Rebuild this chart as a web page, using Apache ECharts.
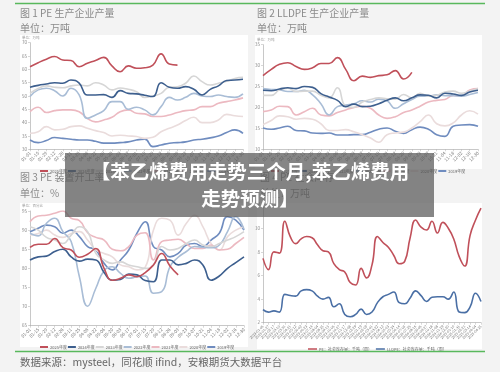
<!DOCTYPE html>
<html><head><meta charset="utf-8">
<script src="https://cdn.jsdelivr.net/npm/echarts/dist/echarts.min.js"></script>
<style>html,body{margin:0;padding:0;background:#f3f3f3}#c{width:500px;height:372px}</style>
</head><body><div id="c"></div><script>
// ---------- data ----------
const weeks = ["01-01","01-15","01-29","02-12","02-26","03-11","03-25","04-08","04-22","05-06","05-20","06-03","06-17","07-01","07-15","07-29","08-12","08-26","09-09","09-23","10-07","10-21","11-04","11-18","12-02","12-16","12-30"];
const years = ["2025年度","2024年度","2023年度","2022年度","2021年度","2020年度","2019年度"];

// 图1 PE 生产企业产量 (万吨)
const pe25 = [61,62.5,63.8,64.8,63.5,63.3,61,62.3,63.3,64.5,61.3,59.1,61.3,60.4,60.6,61.6,65.8,62,61.6];
const pe24 = [53.3,54,54.5,55,54.8,56,54.8,50.4,50.4,50.5,49.5,52,51,50.8,50.3,49.8,55,53.3,52.9,53.5,52.5,50.4,52.5,53.8,55.8,56,56.3];
const pe23 = [51,52.8,53.8,53.3,53.1,53.8,54.1,53.8,55,54.1,52.3,53,52.5,51.6,49.5,50,51,53.3,53.5,54.8,57.5,55.4,54.1,54.8,55.5,56.6,57];
const pe22 = [49.8,52.3,52.9,52,50,52.9,50.4,41.6,42.9,44.5,47.9,47.9,45,45.8,44.8,42.9,46,49.5,48.5,49.5,51,50,49.8,50.4,49.8,49.5,50.8];
const pe21 = [44.1,45.8,43.8,44.5,44.8,44.8,44.1,41.6,40.3,41,42,44.1,44.8,43.5,43.3,42.3,42.3,42.9,43.8,44.5,44.8,46,46,47.3,47.9,48.5,49.3];
const pe20 = [36,36.6,38.5,37.3,37.5,38.5,38.8,37.9,37,36.3,35,35.3,35,34.8,34.1,34.5,36.6,37.9,39.1,40.8,42,40,40,41,43.1,42.6,42.3];
const pe19 = [33.5,32.5,33.3,34.4,34.1,33.8,33.5,33.5,33,32.3,32.3,32.5,32.8,33.5,33.8,31,31.6,32.3,32.5,32.8,33.5,33.8,34.3,35,36.3,37.3,36];

// 图2 LLDPE 生产企业产量 (万吨)
const ll25 = [27.6,29.1,30.3,30.7,29.8,29.1,29.5,30.5,30.5,31.9,29.1,26.4,27.5,27.2,27.6,27.8,28.8,26.8,28.4];
const ll24 = [24.1,24,24.4,24.7,24.5,25,24.8,23.3,22.5,21.7,20.2,20.8,20.2,20.3,20.9,21.7,22.3,21.6,22.3,23,22.9,22.3,23.4,23.2,22.9,23.7,24.1];
const ll23 = [22.9,22.9,24.2,24.6,23.8,23.9,23.9,22.9,22.3,24.7,20.3,20,21.3,21.9,22.3,22.1,22,23.1,22.3,23.4,22.7,22.9,23.7,23.9,23.4,23.9,24.5];
const ll22 = [24.5,24.3,24.2,23.8,23.8,24.1,23,20.9,18.2,20.2,20.6,20.9,21.6,21.3,22,21.6,19.8,20.9,21.9,22.7,22.7,23,22.8,22.8,22.7,23.1,23.6];
const ll21 = [19,19.4,20.3,20.2,18.2,19,19.8,18.2,18,18.8,19.4,20,20.3,19.8,18.2,17.4,17.8,18.8,19.4,20.3,21.3,21.7,21.9,22.9,22.7,24.2,24.5];
const ll20 = [15.9,16.9,18,17.8,17.2,17.4,17.2,16.1,14.5,14.5,14.7,14.2,13.5,12.7,11.7,13.5,13.9,14.1,15.1,16.6,18.2,16.1,15.6,16.3,18.2,19.2,18.4];
const ll19 = [15.1,14.8,15.1,15.5,14.5,14.4,13.9,13.8,13.9,13.4,13.4,13.5,13.5,14.1,14.8,15.1,14.3,13.8,14.7,15.3,14.8,13.5,13.1,15.5,15.8,15.9,15.5];

// 图3 PE 装置开工率 (%)
const op25 = [85.5,86.3,86.3,87.8,85.4,84.8,82.9,83.7,85.2,80,76.9,77.4,78.3,77.8,78.9,80.9,83.9,80.6,78.3];
const op24 = [82.2,83,83.2,84.4,85,83,81.9,82.4,82.2,78.9,76.9,77.1,78.5,78.3,76.8,76.5,82.2,82.2,80.9,81.3,82.2,80.9,76.9,78,80,81.5,83];
const op23 = [90.9,90,88.1,87.4,86.5,88.7,90.9,89.6,83.9,82.2,81.3,81.7,80.9,80.4,80,80.9,85.7,84.8,85.2,86.5,87.4,86.1,85.7,86.5,87.4,88.3,89.6];
const op22 = [89.2,88.5,91.8,93.1,89.6,87,77.8,70.1,74.8,79.4,80.4,78.7,77.4,77.8,78,73.5,73.9,80.4,82.9,84.4,85.7,85.5,85.4,86.1,89.6,93.5,90.2];
const op21 = [92.2,93.7,93.9,94.4,95,93.1,92.5,89.3,88.1,87.4,85,84.6,85.7,88.7,89.3,82.2,87,87.4,87.6,86.4,85.2,85.2,86.1,84.8,85,86.5,88.1];
const op20 = [88.7,89.1,90,88.7,88.1,89.1,89.6,87.4,84.8,83.9,83,80.9,80.4,79.6,80.3,90,93.1,92.6,88.7,91.8,93.9,90.9,86.5,84.8,88.3,90,90.9];
const op19 = [89.6,90.5,91.3,90.9,89.2,90,88.3,85.7,84.8,81.3,79.6,82.2,84.8,89.2,92.2,85.7,84.8,83,83.9,86.1,86.5,85.7,87.4,89.2,93.5,92.6,90];

// 图4 库存 (万吨)
const invDates = ["2023-01-06","2023-01-27","2023-02-17","2023-03-10","2023-03-31","2023-04-21","2023-05-12","2023-06-02","2023-06-23","2023-07-14","2023-08-04","2023-08-25","2023-09-15","2023-10-06","2023-10-27","2023-11-17","2023-12-08","2023-12-29","2024-01-19","2024-02-09","2024-03-01","2024-03-22","2024-04-12","2024-05-03","2024-05-24","2024-06-14","2024-07-05","2024-07-26","2024-08-16","2024-09-06","2024-09-27","2024-10-18","2024-11-08","2024-11-29","2024-12-20","2025-01-10","2025-01-31","2025-02-21","2025-03-14","2025-04-04","2025-04-25"];
const invPE = [7.45,6.5,8.0,7.9,10.6,9.3,8.7,9.1,9.3,9.2,8.6,8.1,8.0,7.0,6.5,6.3,5.4,5.2,6.6,5.8,6.9,9.3,8.8,8.4,7.7,7.0,7.2,9.2,10.7,10.1,9.85,10.6,9.6,10.5,10.0,9.1,7.6,6.8,9.4,10.7,11.7];
const invLL = [3.1,2.9,3.0,2.9,4.4,4.3,4.25,4.7,4.8,4.7,4.25,4.0,4.15,3.35,3.6,2.7,2.5,2.7,3.15,2.7,2.9,3.7,4.2,4.4,4.6,3.7,3.6,4.1,4.7,4.3,3.8,4.15,4.2,4.2,4.0,4.6,2.9,2.85,3.35,4.5,3.8];
const invNames = ["PE：社会库存量：千吨（周）","LLDPE：社会库存量：千吨（周）"];

// ---------- chart ----------
const FF = '"Noto Sans CJK SC", "Noto Sans", sans-serif';
const yearColors = ['#c0505a','#3d5f8e','#d6d6d6','#a9bdd6','#ecb9c1','#eadcdc','#6f8cbf'];
const axisCol = '#b0b0b0';

function xAx(gi, data, fs) {
  return {type:'category', gridIndex:gi, data:data, boundaryGap:false,
    axisLine:{lineStyle:{color:axisCol,width:0.7}},
    axisTick:{show:true,length:2,lineStyle:{color:axisCol,width:0.5}},
    axisLabel:{rotate:45,fontSize:fs,color:'#777',interval:0,margin:3,fontFamily:FF}};
}
function yAx(gi, min, max, interval) {
  return {type:'value', gridIndex:gi, min:min, max:max, interval:interval,
    splitLine:{show:false},
    axisLine:{show:true,lineStyle:{color:axisCol,width:0.7}},
    axisTick:{show:true,length:2,lineStyle:{color:axisCol,width:0.5}},
    axisLabel:{fontSize:4.5,color:'#888',margin:3,fontFamily:FF}};
}
function ln(name, data, color, idx, w) {
  return {type:'line', name:name, data:data, xAxisIndex:idx, yAxisIndex:idx,
    smooth:true, symbol:'none', lineStyle:{color:color,width:w||1.6}, itemStyle:{color:color}};
}
function yearSeries(idx, arrs) {
  const out = [];
  for (let k = arrs.length - 1; k >= 0; k--) out.push(ln(years[k], arrs[k], yearColors[k], idx));
  return out;
}
function legendYears(left, top) {
  return {data:years, left:left, top:top, itemWidth:8, itemHeight:2, itemGap:1, icon:'rect',
    textStyle:{fontSize:4,color:'#666',fontFamily:FF,padding:[0,0,0,-3]}};
}
function txt(x, y, text, size, color, extra) {
  return Object.assign({type:'text', z:5, style:{x:x, y:y, text:text, fontSize:size, fill:color, fontFamily:FF, textVerticalAlign:'middle'}}, extra||{});
}
function bigTxt(y, text) {
  return {type:'text', z:101, style:{x:250, y:y, text:text, fontSize:19.5, fontWeight:'bold', fill:'#ffffff', fontFamily:FF, textAlign:'center', textVerticalAlign:'middle'}};
}
function rect(x, y, w, h, fill, z) {
  return {type:'rect', z:z, shape:{x:x,y:y,width:w,height:h}, style:{fill:fill}};
}

const chart = echarts.init(document.getElementById('c'), null, {renderer:'canvas'});
const option = {
  animation:false,
  backgroundColor:'#f3f3f3',
  grid:[
    {left:30, top:42.7, width:213, height:106.6},
    {left:263, top:44.7, width:215, height:104.6},
    {left:30, top:211, width:214, height:114.7},
    {left:263, top:204.7, width:218, height:118}
  ],
  xAxis:[xAx(0,weeks,4.5), xAx(1,weeks,4.5), xAx(2,weeks,4.5), xAx(3,invDates,3.5)],
  yAxis:[yAx(0,30,70,5), yAx(1,10,35,5), yAx(2,65,95,5), yAx(3,2,12,2)],
  legend:[
    legendYears(35,164),
    legendYears(266,164),
    legendYears(35,340),
    {data:invNames, left:303, top:342, itemWidth:9, itemHeight:1.5, itemGap:4, icon:'rect',
      textStyle:{fontSize:4,color:'#666',fontFamily:FF,padding:[0,0,0,-3]}}
  ],
  series:[].concat(
    yearSeries(0,[pe25,pe24,pe23,pe22,pe21,pe20,pe19]),
    yearSeries(1,[ll25,ll24,ll23,ll22,ll21,ll20,ll19]),
    yearSeries(2,[op25,op24,op23,op22,op21,op20,op19]),
    [ln(invNames[0], invPE, '#c0505a', 3, 1.6), ln(invNames[1], invLL, '#4a6fa5', 3, 1.6)]
  ),
  graphic:{elements:[
    rect(20,35,228,134,'#ffffff',-10),
    rect(255,35,227,134,'#ffffff',-10),
    rect(20,203,228,144,'#ffffff',-10),
    rect(257,203,225,146,'#ffffff',-10),
    {type:'line', z:5, shape:{x1:15,y1:3.5,x2:485,y2:3.5}, style:{stroke:'#58b85c',lineWidth:1.5}},
    {type:'line', z:5, shape:{x1:15,y1:351.5,x2:485,y2:351.5}, style:{stroke:'#58b85c',lineWidth:1.5}},
    txt(20,13,'图 1 PE 生产企业产量',10,'#8a8a8a'),
    txt(20,28,'单位：万吨',10,'#8a8a8a'),
    txt(257,13,'图 2 LLDPE 生产企业产量',10,'#8a8a8a'),
    txt(257,28,'单位：万吨',10,'#8a8a8a'),
    txt(20,177,'图 3 PE 装置开工率',10,'#8a8a8a'),
    txt(20,193,'单位：%',10,'#8a8a8a'),
    txt(260,177,'图 4 PE 社会库存',10,'#8a8a8a'),
    txt(260,193,'单位：万吨',10,'#8a8a8a'),
    txt(22,38,'单位：万吨',3.5,'#999'),
    txt(257,40,'单位：万吨',3.5,'#999'),
    txt(22,206,'单位：百分比',3.5,'#999'),
    txt(20,362,'数据来源：mysteel，同花顺 ifind，安粮期货大数据平台',10.5,'#666'),
    rect(65,153,369,64,'rgba(88,88,88,0.72)',100),
    bigTxt(172,'【苯乙烯费用走势三个月,苯乙烯费用'),
    bigTxt(199,'走势预测】')
  ]}
};
chart.setOption(option);
</script></body></html>
